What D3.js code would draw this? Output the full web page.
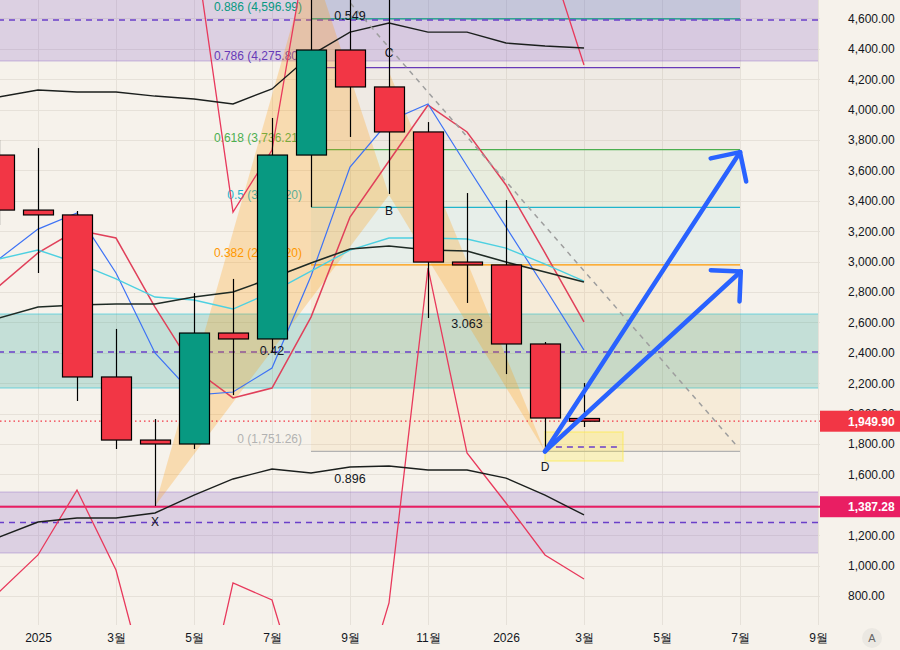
<!DOCTYPE html>
<html><head><meta charset="utf-8">
<script src="https://cdn.jsdelivr.net/npm/d3@7"></script>
<style>body{margin:0;background:#f6f2eb}svg{display:block}text{font-family:"Liberation Sans",Arial,sans-serif}</style>
</head><body>
<svg id="c" width="900" height="650"></svg>
<script>
// ---------- DATA ----------
// month index: 0 = Jan 2025
const candleMonths = [-1,0,1,2,3,4,5,6,7,8,9,10,11,12,13,14];
const openV  = [3701,3339,3307,2241,1826,1800,2530,2491,3701,4392,4149,3853,2997,2978,2458,1968];
const highV  = [3800,3747,3333,2557,1964,2793,2886,3945,4950,4880,4950,3918,3451,3405,2471,2201];
const lowV   = [3241,2925,2083,1767,1392,1767,2122,2405,3359,3820,3445,2629,2728,2260,1751,1912];
const closeV = [3339,3307,2241,1826,1800,2530,2491,3701,4392,4149,3853,2997,2978,2458,1971,1949.9];

const bbUpper = [4083,4129,4116,4116,4089,4070,4037,4136,4359,4510,4570,4510,4510,4438,4418,4405];
const bbMid   = [2629,2701,2714,2721,2721,2767,2800,2892,2991,3083,3103,3076,3070,2997,2932,2866];
const bbLower = [1188,1287,1313,1313,1346,1464,1570,1635,1609,1649,1655,1629,1629,1576,1464,1333];
const cyanLine = [3017,3076,2991,2886,2767,2747,2688,2800,2938,3076,3155,3155,3149,3089,2984,2872];
const blueLine = [3017,3214,3320,2925,2399,2122,2142,2300,2905,3622,3925,4037,3629,3228,2826,2418];
const redLine  = [2839,3057,3208,3155,2701,2293,2103,2168,2635,3293,3662,4030,3853,3504,3057,2603];
const lowerWild = [826,1070,1497,971,0,-250,886,774,-80,-100,754,2958,1741,1412,1070,912];
const upperWild = [5300,5350,5300,5400,5500,5120,3326,3734,5221,5500,5600,5500,5400,5300,5090,4293];

const xTickMonths = [0,2,4,6,8,10,12,14,16,18,20];
const xTickLabels = ["2025","3월","5월","7월","9월","11월","2026","3월","5월","7월","9월"];
const yGrid = [800,1000,1200,1400,1600,1800,2000,2200,2400,2600,2800,3000,3200,3400,3600,3800,4000,4200,4400,4600];
const yTickLabels = [800,1000,1200,1600,1800,2000,2200,2400,2600,2800,3000,3200,3400,3600,3800,4000,4200,4400,4600];

// XABCD pattern
const patternNames = ["X","A","B","C","D"];
const patternMonths = [3,7,9,9,13];
const patternPrices = [1392,4997,3438,4247,1751.26];
const ratioTexts = ["0.42","0.549","3.063","0.896"]; // XB, AC, BD, XD

// Fibonacci retracement
const fibLevels = [0,0.382,0.5,0.618,0.786,0.886,1];
const fibPrices = [1751.26,2978.20,3357.20,3736.21,4275.80,4596.99,4963.15];
const fibTexts  = ["0 (1,751.26)","0.382 (2,978.20)","0.5 (3,357.20)","0.618 (3,736.21)","0.786 (4,275.80)","0.886 (4,596.99)",""];
const fibStartEnd = [7,18];

// zones [low, high, mid]
const zoneTop = [4320,4859,4589];
const zoneMid = [2168,2655,2405];
const zoneBot = [1083,1484,1283];
const zoneMonths = [-3,20];
const yellowBox = {m:[13,15], p:[1688,1879], dash:[13.28,14.85,1780]};

const lastPrice = 1949.90;
const supportPrice = 1387.28;
const trendLine = {m:[7,17.92], p:[4997,1787]};
const arrowStart = [13,1751.26];
const arrowEnds = [[18,3720],[18.02,2935]];

// ---------- DRAW ----------
const W=900,H=650, plotW=820, plotH=625;
const svg=d3.select("#c");
const x=d3.scaleLinear().domain([0,1]).range([38,77]);
const y=d3.scaleLinear().domain([800,4600]).range([596,18.4]);
const fmt=d3.format(",.2f");

svg.append("rect").attr("width",W).attr("height",H).attr("fill","#f6f2eb");
svg.append("defs").append("clipPath").attr("id","clip").append("rect").attr("width",plotW).attr("height",plotH);
const g=svg.append("g").attr("clip-path","url(#clip)");

// grid
g.selectAll("line.hg").data(yGrid).join("line").attr("x1",0).attr("x2",plotW)
 .attr("y1",d=>Math.round(y(d))+0.5).attr("y2",d=>Math.round(y(d))+0.5).attr("stroke","#e6e1d9");
g.selectAll("line.vg").data(xTickMonths).join("line").attr("y1",0).attr("y2",plotH)
 .attr("x1",d=>Math.round(x(d))+0.5).attr("x2",d=>Math.round(x(d))+0.5).attr("stroke","#e6e1d9");

// zones
function zone(z,fill,edge){
  g.append("rect").attr("x",x(zoneMonths[0])).attr("width",x(zoneMonths[1])-x(zoneMonths[0]))
   .attr("y",y(z[1])).attr("height",y(z[0])-y(z[1])).attr("fill",fill);
  [z[0],z[1]].forEach(v=>g.append("line").attr("x1",x(zoneMonths[0])).attr("x2",x(zoneMonths[1]))
    .attr("y1",y(v)).attr("y2",y(v)).attr("stroke",edge).attr("stroke-width",2));
}
zone(zoneTop,"rgba(126,87,194,0.22)","rgba(126,87,194,0.18)");
zone(zoneBot,"rgba(126,87,194,0.22)","rgba(126,87,194,0.18)");
zone(zoneMid,"rgba(0,150,136,0.2)","rgba(38,198,218,0.3)");

// fib
const fibFill=["rgba(255,152,0,0.08)","rgba(0,188,212,0.06)","rgba(76,175,80,0.08)","rgba(120,100,100,0.05)","rgba(103,58,183,0.04)","rgba(80,150,180,0.16)"];
const fibColor=["#b2b2b2","#ff9800","#1fb5cc","#4caf50","#673ab7","#089981","#787b86"];
const fx0=x(fibStartEnd[0]), fx1=x(fibStartEnd[1]);
for(let i=0;i<fibLevels.length-1;i++){
  g.append("rect").attr("x",fx0).attr("width",fx1-fx0).attr("y",y(fibPrices[i+1]))
   .attr("height",y(fibPrices[i])-y(fibPrices[i+1])).attr("fill",fibFill[i]);
}
fibPrices.forEach((p,i)=>{
  g.append("line").attr("x1",fx0).attr("x2",fx1).attr("y1",y(p)).attr("y2",y(p))
   .attr("stroke",fibColor[i]).attr("stroke-width",1.3);
  if(fibTexts[i]) g.append("text").attr("x",fx0-9).attr("y",y(p)-8).attr("text-anchor","end")
   .attr("font-size",12).attr("fill",fibColor[i]).text(fibTexts[i]);
});

// dashed mid lines of zones
[zoneTop,zoneMid,zoneBot].forEach(z=>g.append("line").attr("x1",x(zoneMonths[0])).attr("x2",x(zoneMonths[1]))
  .attr("y1",y(z[2])).attr("y2",y(z[2])).attr("stroke","#6a3fc9").attr("stroke-width",1.5).attr("stroke-dasharray","6,5"));

// yellow box
g.append("rect").attr("x",x(yellowBox.m[0])).attr("width",x(yellowBox.m[1])-x(yellowBox.m[0]))
 .attr("y",y(yellowBox.p[1])).attr("height",y(yellowBox.p[0])-y(yellowBox.p[1]))
 .attr("fill","rgba(255,235,59,0.25)").attr("stroke","rgba(255,235,59,0.35)").attr("stroke-width",2);
g.append("line").attr("x1",x(yellowBox.dash[0])).attr("x2",x(yellowBox.dash[1]))
 .attr("y1",y(yellowBox.dash[2])).attr("y2",y(yellowBox.dash[2])).attr("stroke","#6a3fc9").attr("stroke-width",1.5).attr("stroke-dasharray","6,5");

// pattern triangles
const pts=patternMonths.map((m,i)=>[x(m),y(patternPrices[i])]);
const tri=d3.line();
g.append("path").attr("d",tri([pts[0],pts[1],pts[2]])+"Z").attr("fill","rgba(255,152,0,0.25)");
g.append("path").attr("d",tri([pts[2],pts[3],pts[4]])+"Z").attr("fill","rgba(255,152,0,0.25)");

// horizontal lines
g.append("line").attr("x1",0).attr("x2",plotW).attr("y1",y(lastPrice)).attr("y2",y(lastPrice))
 .attr("stroke","#f23645").attr("stroke-width",1.2).attr("stroke-dasharray","1.5,3");
g.append("line").attr("x1",0).attr("x2",plotW).attr("y1",y(supportPrice)).attr("y2",y(supportPrice))
 .attr("stroke","#e91e63").attr("stroke-width",2);

// indicator lines
const ln=d3.line().x((d,i)=>x(candleMonths[i])).y(d=>y(d));
function series(arr,color,w){g.append("path").attr("d",ln(arr)).attr("fill","none").attr("stroke",color).attr("stroke-width",w);}
series(upperWild,"#e8395c",1.3);
series(lowerWild,"#e8395c",1.3);
series(redLine,"#e0405a",1.5);
series(blueLine,"#3d72f5",1.2);
series(cyanLine,"#4dd0e1",1.4);
series(bbUpper,"#1b1f1d",1.4);
series(bbMid,"#1e2a24",1.6);
series(bbLower,"#1b1f1d",1.4);

// trend dashed line
g.append("line").attr("x1",x(trendLine.m[0])).attr("y1",y(trendLine.p[0]))
 .attr("x2",x(trendLine.m[1])).attr("y2",y(trendLine.p[1]))
 .attr("stroke","#9e9e9e").attr("stroke-width",1.5).attr("stroke-dasharray","5,5");

// candles
const candles=candleMonths.map((m,i)=>({m,o:openV[i],h:highV[i],l:lowV[i],c:closeV[i]}));
g.selectAll("line.wick").data(candles).join("line")
 .attr("x1",d=>Math.round(x(d.m))+0.5).attr("x2",d=>Math.round(x(d.m))+0.5)
 .attr("y1",d=>y(d.h)).attr("y2",d=>y(d.l)).attr("stroke","#000").attr("stroke-width",1.2);
g.selectAll("rect.body").data(candles).join("rect")
 .attr("x",d=>Math.round(x(d.m))-14.5).attr("width",30)
 .attr("y",d=>y(Math.max(d.o,d.c))).attr("height",d=>Math.max(2,Math.abs(y(d.o)-y(d.c))))
 .attr("fill",d=>d.c>=d.o?"#089981":"#f23645").attr("stroke","#000").attr("stroke-width",1.2);

// arrows
const a0=[x(arrowStart[0]),y(arrowStart[1])];
arrowEnds.forEach(e=>{
  const t=[x(e[0]),y(e[1])];
  g.append("line").attr("x1",a0[0]).attr("y1",a0[1]).attr("x2",t[0]).attr("y2",t[1])
   .attr("stroke","#2962ff").attr("stroke-width",4.5).attr("stroke-linecap","round");
  const dx=a0[0]-t[0], dy=a0[1]-t[1], L=Math.hypot(dx,dy), ux=dx/L, uy=dy/L;
  [Math.PI/4,-Math.PI/4].forEach(a=>{
    const hx=ux*Math.cos(a)-uy*Math.sin(a), hy=ux*Math.sin(a)+uy*Math.cos(a);
    g.append("line").attr("x1",t[0]).attr("y1",t[1]).attr("x2",t[0]+hx*30).attr("y2",t[1]+hy*30)
     .attr("stroke","#2962ff").attr("stroke-width",4.5).attr("stroke-linecap","round");
  });
});

// pattern labels
const below=[true,false,true,false,true];
patternNames.forEach((n,i)=>{
  g.append("text").attr("x",pts[i][0]).attr("y",pts[i][1]+(below[i]?20:-15)).attr("text-anchor","middle")
   .attr("font-size",12).attr("fill","#131722").text(n);
});
const pairs=[[0,2],[1,3],[2,4],[0,4]];
pairs.forEach((p,i)=>{
  const mx=(pts[p[0]][0]+pts[p[1]][0])/2, my=(pts[p[0]][1]+pts[p[1]][1])/2;
  g.append("text").attr("x",mx).attr("y",my+4.5).attr("text-anchor","middle")
   .attr("font-size",12.5).attr("fill","#131722").text(ratioTexts[i]);
});

// axes
const ya=svg.append("g").attr("transform","translate(848,0)")
 .call(d3.axisRight(y).tickValues(yTickLabels).tickFormat(fmt).tickSize(0).tickPadding(0));
ya.select(".domain").remove();
ya.selectAll("text").attr("font-size",12).attr("fill","#131722").style("font-family","Liberation Sans, Arial, sans-serif");

const xa=svg.append("g").attr("transform","translate(0,629)")
 .call(d3.axisBottom(x).tickValues(xTickMonths).tickFormat((d,i)=>xTickLabels[i]).tickSize(0).tickPadding(4));
xa.select(".domain").remove();
xa.selectAll("text").attr("font-size",12).attr("fill","#131722").style("font-family","Liberation Sans, Arial, sans-serif");

// price boxes
function priceBox(p,color){
  svg.append("rect").attr("x",820).attr("y",y(p)-10.5).attr("width",80).attr("height",21).attr("fill",color);
  svg.append("text").attr("x",848).attr("y",y(p)+4.3).attr("font-size",12).attr("font-weight","bold")
   .attr("fill","#fff").text(fmt(p));
}
priceBox(lastPrice,"#f23645");
priceBox(supportPrice,"#e91e63");

// auto-scale button
svg.append("circle").attr("cx",872).attr("cy",638).attr("r",10).attr("fill","#ebe8e2");
svg.append("text").attr("x",872).attr("y",642).attr("text-anchor","middle").attr("font-size",11).attr("fill","#666").text("A");
</script>
</body></html>
